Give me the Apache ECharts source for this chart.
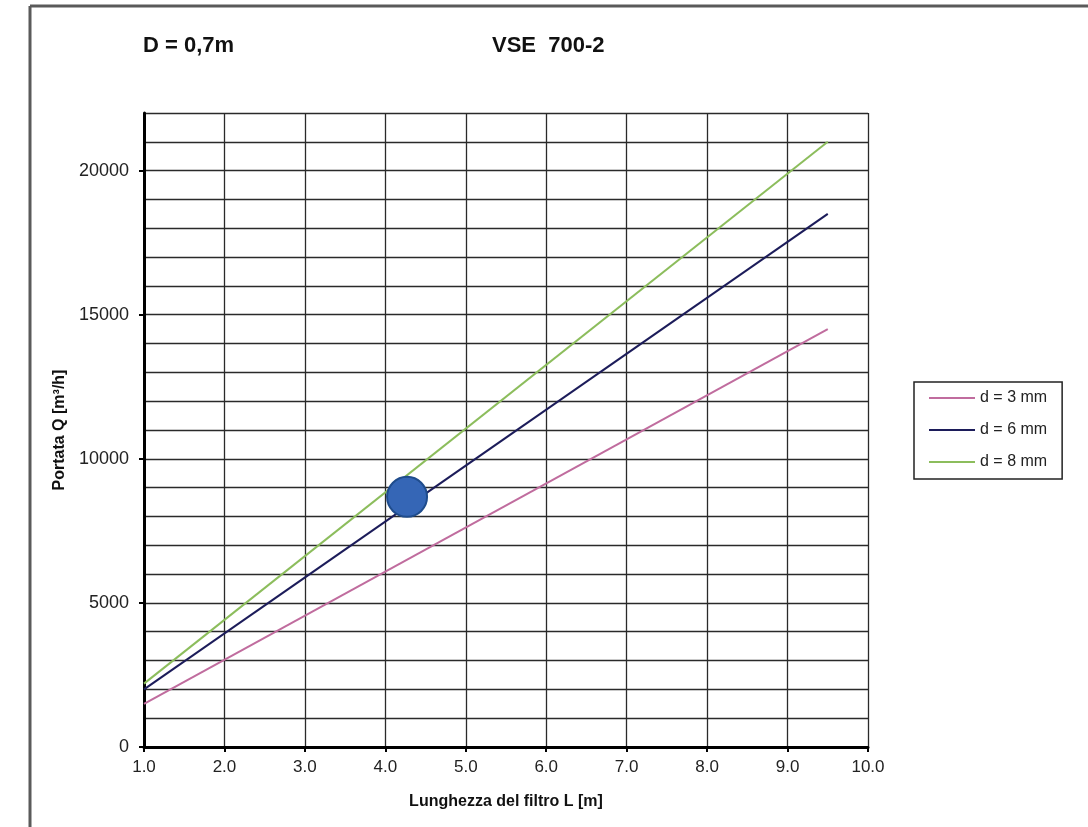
<!DOCTYPE html>
<html>
<head>
<meta charset="utf-8">
<script src="https://cdn.jsdelivr.net/npm/echarts@6/dist/echarts.min.js"></script>
<style>
  html, body { margin: 0; padding: 0; background: #ffffff; }
  #chart { width: 1088px; height: 827px; }
</style>
</head>
<body>
<div id="chart"></div>
<script>
// ---- data ----
const xValues = [1.0, 9.5];            // Lunghezza del filtro L [m]
const q3mm = [1500, 14500];            // d = 3 mm
const q6mm = [2000, 18500];            // d = 6 mm
const q8mm = [2200, 21000];            // d = 8 mm
const markerPoint = [4.27, 8680];      // highlighted operating point
const yTickLabels = [0, 5000, 10000, 15000, 20000];
const seriesNames = ['d = 3 mm', 'd = 6 mm', 'd = 8 mm'];
const seriesColors = ['#c06c9e', '#1c1c5a', '#8cbd5c'];

const toPairs = (ys) => xValues.map((x, i) => [x, ys[i]]);
const allY = [q3mm, q6mm, q8mm];
const FONT = 'Liberation Sans, Arial, sans-serif';

const chart = echarts.init(document.getElementById('chart'), null, { renderer: 'canvas' });

const lineSeries = allY.map((ys, i) => ({
  name: seriesNames[i],
  type: 'line',
  data: toPairs(ys),
  symbol: 'none',
  yAxisIndex: 0,
  lineStyle: { color: seriesColors[i], width: 2 },
  itemStyle: { color: seriesColors[i] },
  z: 3
}));

const option = {
  backgroundColor: '#ffffff',
  animation: false,
  textStyle: { fontFamily: FONT },
  title: [
    { text: 'D = 0,7m', left: 138, top: 30,
      textStyle: { fontSize: 22, fontWeight: 'bold', color: '#111', fontFamily: FONT } },
    { text: 'VSE  700-2', left: 487, top: 30,
      textStyle: { fontSize: 22, fontWeight: 'bold', color: '#111', fontFamily: FONT } }
  ],
  graphic: [
    { type: 'line', shape: { x1: 30, y1: 6, x2: 1088, y2: 6 }, style: { stroke: '#5a5a5a', lineWidth: 3 }, silent: true },
    { type: 'line', shape: { x1: 30, y1: 6, x2: 30, y2: 827 }, style: { stroke: '#5a5a5a', lineWidth: 3 }, silent: true }
  ],
  legend: {
    data: seriesNames,
    orient: 'vertical',
    left: 914,
    top: 382,
    icon: 'rect',
    itemWidth: 46,
    itemHeight: 2,
    itemGap: 16,
    padding: [8, 15, 9, 15],
    borderColor: '#222',
    borderWidth: 1.5,
    textStyle: { fontSize: 16, color: '#222', padding: [0, 0, 0, 0], fontFamily: FONT }
  },
  grid: { left: 144, right: 220, top: 113, bottom: 80, containLabel: false },
  xAxis: {
    type: 'value',
    min: 1,
    max: 10,
    interval: 1,
    name: 'Lunghezza del filtro L [m]',
    nameLocation: 'middle',
    nameGap: 47,
    nameTextStyle: { fontSize: 16, fontWeight: 'bold', color: '#111' },
    axisLine: { show: true, onZero: false, lineStyle: { color: '#000', width: 3 } },
    axisTick: { show: true, length: 5, lineStyle: { color: '#000', width: 2 } },
    axisLabel: { fontSize: 17, color: '#222', margin: 12, formatter: (v) => v.toFixed(1) },
    splitLine: { show: true, lineStyle: { color: '#2a2a2a', width: 1.3 } }
  },
  yAxis: [
    {
      // grid every 1000
      type: 'value',
      position: 'left',
      min: 0,
      max: 22000,
      interval: 1000,
      axisLine: { show: false },
      axisTick: { show: false },
      axisLabel: { show: false },
      splitLine: { show: true, lineStyle: { color: '#2a2a2a', width: 1.3 } }
    },
    {
      // ticks and labels every 5000
      type: 'value',
      position: 'left',
      min: 0,
      max: 22000,
      interval: 1000,
      name: 'Portata Q [m³/h]',
      nameLocation: 'middle',
      nameGap: 68,
      nameTextStyle: { fontSize: 16, fontWeight: 'bold', color: '#111' },
      axisLine: { show: true, onZero: false, lineStyle: { color: '#000', width: 3 } },
      axisTick: { show: true, length: 5, customValues: yTickLabels, lineStyle: { color: '#000', width: 2 } },
      axisLabel: { fontSize: 18, color: '#222', margin: 15, customValues: yTickLabels, formatter: (v) => String(v) },
      splitLine: { show: false }
    }
  ],
  series: lineSeries.concat([{
    name: 'punto',
    type: 'scatter',
    data: [markerPoint],
    yAxisIndex: 0,
    symbol: 'circle',
    symbolSize: 40,
    itemStyle: { color: '#3566b6', borderColor: '#1f4c8c', borderWidth: 2, opacity: 1 },
    z: 5
  }])
};

chart.setOption(option);
</script>
</body>
</html>
